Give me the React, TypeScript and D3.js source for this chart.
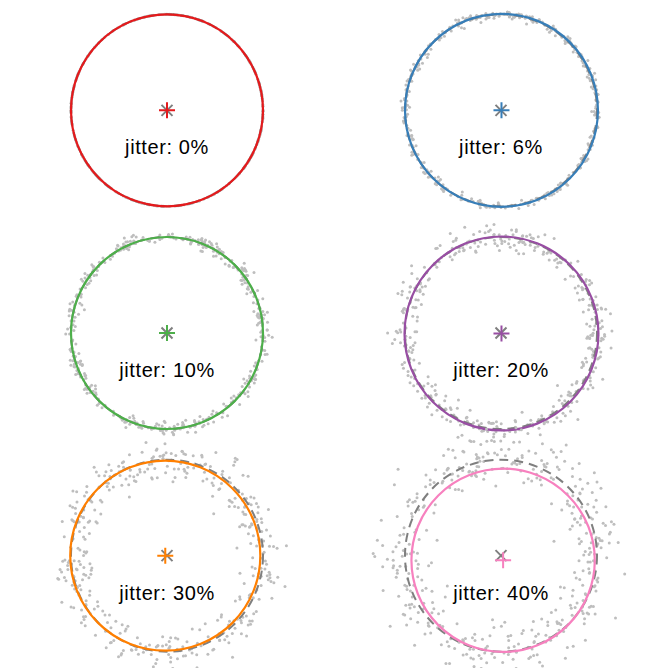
import { useRef, useEffect } from 'react';
import * as d3 from 'd3';

// one panel per jitter level
const jitterLevels = [0, 6, 10, 20, 30, 40];
const fitColors = ['#e41a1c', '#377eb8', '#4daf4a', '#984ea3', '#ff7f00', '#f781bf'];
// fitted circle (data units, true circle is the unit circle at 0,0)
const fitCenterX = [0, 0.005, 0, 0.005, -0.018, 0.022];
const fitCenterY = [0, 0, 0, -0.005, 0, -0.048];
const fitRadius = [1, 1.005, 1.0, 1.01, 0.99, 0.955];
const pointsPerPanel = 420;

function App() {
  const svgRef = useRef<SVGSVGElement | null>(null);
  const width = 668;
  const height = 668;

  useEffect(() => {
    const svg = d3.select(svgRef.current).attr('viewBox', [0, 0, width, height].join(' '));
    svg.selectAll('*').remove();

    const cols = d3.scaleBand<number>().domain([0, 1]).range([0, 668]);
    const rows = d3.scaleBand<number>().domain([0, 1, 2]).range([-1, 667]);
    const unit = 96; // px per data unit

    jitterLevels.forEach((jit, i) => {
      const cx = cols(i % 2)! + cols.bandwidth() / 2;
      const cy = rows(Math.floor(i / 2))! + rows.bandwidth() / 2;
      const x = d3.scaleLinear().domain([-1, 1]).range([cx - unit, cx + unit]);
      const y = d3.scaleLinear().domain([-1, 1]).range([cy + unit, cy - unit]);
      const g = svg.append('g');

      // noisy samples of the unit circle (seeded so the picture is stable)
      const lcg = d3.randomLcg(0.1234 + i * 0.071);
      const ang = d3.randomUniform.source(lcg)(0, 2 * Math.PI);
      const noise = d3.randomNormal.source(lcg)(0, (jit / 100) * 0.34);
      const pts = d3.range(pointsPerPanel).map(() => {
        const a = ang();
        return [Math.cos(a) + noise(), Math.sin(a) + noise()];
      });

      g.selectAll('.pt')
        .data(pts)
        .join('circle')
        .attr('class', 'pt')
        .attr('cx', (d) => x(d[0]))
        .attr('cy', (d) => y(d[1]))
        .attr('r', 1.5)
        .attr('fill', '#bebebe');

      // true circle
      g.append('circle')
        .attr('cx', x(0))
        .attr('cy', y(0))
        .attr('r', x(1) - x(0))
        .attr('fill', 'none')
        .attr('stroke', '#7f7f7f')
        .attr('stroke-width', 2)
        .attr('stroke-dasharray', '9,6');

      // fitted circle
      g.append('circle')
        .attr('cx', x(fitCenterX[i]))
        .attr('cy', y(fitCenterY[i]))
        .attr('r', x(fitRadius[i]) - x(0))
        .attr('fill', 'none')
        .attr('stroke', fitColors[i])
        .attr('stroke-width', 2.2);

      // true centre: grey x
      const s = 5.5;
      g.append('path')
        .attr('d', `M${x(0) - s},${y(0) - s}L${x(0) + s},${y(0) + s}M${x(0) - s},${y(0) + s}L${x(0) + s},${y(0) - s}`)
        .attr('stroke', '#7f7f7f')
        .attr('stroke-width', 2);

      // fitted centre: coloured +
      const p = 8;
      const fx = x(fitCenterX[i]);
      const fy = y(fitCenterY[i]);
      g.append('path')
        .attr('d', `M${fx - p},${fy}L${fx + p},${fy}M${fx},${fy - p}L${fx},${fy + p}`)
        .attr('stroke', fitColors[i])
        .attr('stroke-width', 2);

      g.append('text')
        .attr('x', x(0))
        .attr('y', y(0) + 44)
        .attr('text-anchor', 'middle')
        .attr('fill', 'black')
        .style('font-family', 'Liberation Sans, Arial, Helvetica, sans-serif')
        .style('font-size', '20px')
        .style('letter-spacing', '0.6px')
        .text(`jitter: ${jit}%`);
    });
  }, []);

  return (
    <svg
      ref={svgRef}
      width={width}
      height={height}
      style={{ position: 'absolute', left: 0, top: 0, background: 'white' }}
    ></svg>
  );
}

export default App;
